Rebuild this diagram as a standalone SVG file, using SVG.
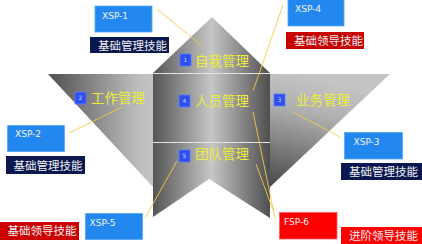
<svg xmlns="http://www.w3.org/2000/svg" width="422" height="244" viewBox="0 0 422 244">
<style>
.zh{font-family:"Noto Sans CJK SC","Noto Sans",sans-serif;}
.cat{font-size:13.5px;fill:#ecec3a;}
.num{font-family:"DejaVu Sans",sans-serif;font-size:6px;fill:#d0d0ff;text-anchor:middle;}
.sq{fill:#2e4ff2;stroke:#5c7cff;stroke-width:0.8;}
.code{font-family:"DejaVu Sans",sans-serif;font-size:9px;fill:#f4f4f4;}
.blue{fill:#2288ef;stroke:#55a8ff;stroke-width:0.8;}
.navy{fill:#0b1850;}
.dred{fill:#c80000;}
.bred{fill:#ff0000;}
.skill{font-size:11.5px;fill:#f0f0f0;}
.ln{stroke:#f3c84a;stroke-width:0.9;fill:none;}
.sep{stroke:#e4e4e4;stroke-width:1;}
</style>
<defs>
<linearGradient id="gCol" x1="0" y1="0" x2="1" y2="0">
<stop offset="0" stop-color="#555555"/>
<stop offset="0.5" stop-color="#c6c6c6"/>
<stop offset="1" stop-color="#4e4e4e"/>
</linearGradient>
<linearGradient id="gLeft" x1="0" y1="0" x2="1" y2="0">
<stop offset="0" stop-color="#505050"/>
<stop offset="0.85" stop-color="#bcbcbc"/>
<stop offset="1" stop-color="#c2c2c2"/>
</linearGradient>
<linearGradient id="gRight" gradientUnits="userSpaceOnUse" x1="300" y1="74" x2="272" y2="187">
<stop offset="0" stop-color="#c4c4c4"/>
<stop offset="0.3" stop-color="#b0b0b0"/>
<stop offset="1" stop-color="#484848"/>
</linearGradient>
</defs>
<g id="shape">
<polygon points="48,74 153,74 153,187" fill="url(#gLeft)"/>
<polygon points="270,74 390,74 270,187" fill="url(#gRight)"/>
<polygon points="153,73 212,17 270,73" fill="url(#gCol)"/>
<rect x="153" y="73" width="117" height="69" fill="url(#gCol)"/>
<polygon points="153,142 270,142 270,218 209,179 153,217" fill="url(#gCol)"/>
<line class="sep" x1="153" y1="73.5" x2="270" y2="73.5"/>
<line class="sep" x1="153" y1="142.5" x2="270" y2="142.5"/>
</g>
<g id="connectors">
<line class="ln" x1="157" y1="9" x2="202" y2="46"/>
<line class="ln" x1="283" y1="5" x2="253" y2="91"/>
<line class="ln" x1="69" y1="133" x2="122" y2="107"/>
<line class="ln" x1="293" y1="112" x2="340" y2="137"/>
<line class="ln" x1="145" y1="218" x2="177" y2="161"/>
<line class="ln" x1="253" y1="112" x2="275" y2="218" stroke="#f2b400" stroke-width="1.3"/>
<line class="ln" x1="256" y1="164" x2="273" y2="210"/>
</g>
<g id="n1">
<rect class="sq" x="180" y="54" width="11" height="12"/>
<text class="num" x="185.5" y="62">1</text>
<text class="zh cat" x="195" y="65.5">自我管理</text>
</g>
<g id="n2">
<rect class="sq" x="75" y="92" width="11" height="12"/>
<text class="num" x="80.5" y="100">2</text>
<text class="zh cat" x="91" y="103">工作管理</text>
</g>
<g id="n3">
<rect class="sq" x="274" y="94" width="11" height="12"/>
<text class="num" x="279.5" y="102">3</text>
<text class="zh cat" x="296" y="105">业务管理</text>
</g>
<g id="n4">
<rect class="sq" x="179" y="95" width="11" height="12"/>
<text class="num" x="184.5" y="103">4</text>
<text class="zh cat" x="195" y="105.7">人员管理</text>
</g>
<g id="n5">
<rect class="sq" x="179" y="150" width="11" height="12"/>
<text class="num" x="184.5" y="158">5</text>
<text class="zh cat" x="195" y="158.5">团队管理</text>
</g>
<g id="xsp1">
<rect class="blue" x="95" y="6" width="57" height="26"/>
<text class="code" x="102" y="19">XSP-1</text>
</g>
<g id="skill1">
<rect class="navy" x="90" y="37" width="79" height="16"/>
<text class="zh skill" x="98" y="49.5">基础管理技能</text>
</g>
<g id="xsp4">
<rect class="blue" x="288" y="-1" width="56" height="27"/>
<text class="code" x="295" y="11.7">XSP-4</text>
</g>
<g id="skill4">
<rect class="dred" x="286" y="32" width="78" height="17"/>
<text class="zh skill" x="294" y="45.4">基础领导技能</text>
</g>
<g id="xsp2">
<rect class="blue" x="7.5" y="125.5" width="57" height="26"/>
<text class="code" x="15" y="137">XSP-2</text>
</g>
<g id="skill2">
<rect class="navy" x="6" y="156" width="79" height="18"/>
<text class="zh skill" x="13.5" y="169.7">基础管理技能</text>
</g>
<g id="xsp3">
<rect class="blue" x="344.5" y="132.5" width="58" height="26.5"/>
<text class="code" x="353.5" y="144.7">XSP-3</text>
</g>
<g id="skill3">
<rect class="navy" x="341" y="163" width="81" height="17"/>
<text class="zh skill" x="349" y="175.7">基础管理技能</text>
</g>
<g id="xsp5">
<rect class="blue" x="85.5" y="213.5" width="57" height="26"/>
<text class="code" x="89.5" y="226">XSP-5</text>
</g>
<g id="skill5">
<rect fill="#cc0000" x="0" y="222" width="79" height="18"/>
<text class="zh skill" x="7.5" y="235.4">基础领导技能</text>
</g>
<g id="fsp6">
<rect class="bred" x="279.5" y="212.5" width="57.5" height="26.5" stroke="#ff5a5a" stroke-width="0.8"/>
<text class="code" x="284" y="225.3">FSP-6</text>
</g>
<g id="skill6">
<rect class="bred" x="341" y="227" width="81" height="17"/>
<text class="zh skill" x="349" y="239.7">进阶领导技能</text>
</g>
</svg>
